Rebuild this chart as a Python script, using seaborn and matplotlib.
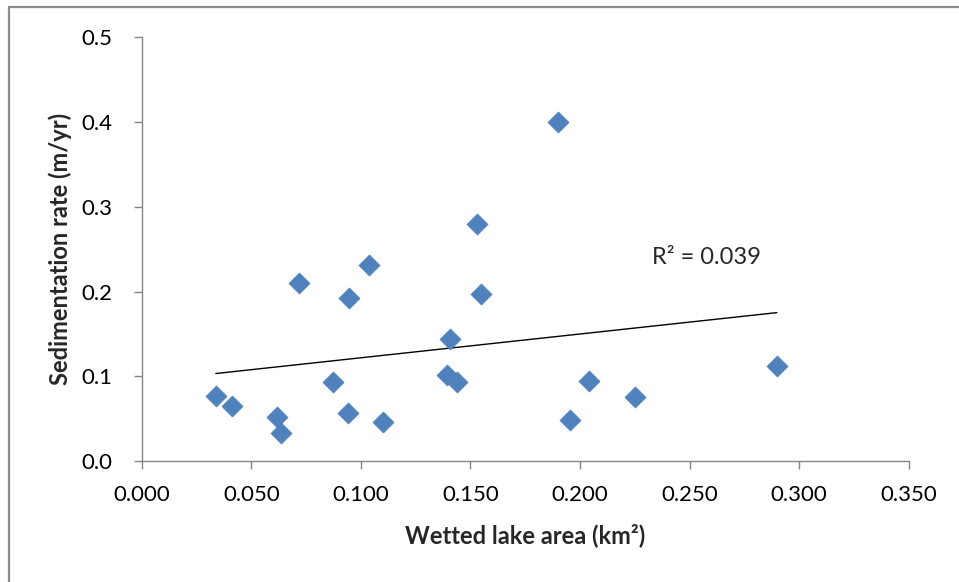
import numpy as np
import pandas as pd
import matplotlib
matplotlib.use('Agg')
import matplotlib.pyplot as plt
import seaborn as sns
from matplotlib.lines import Line2D

sns.set_style('white')
plt.rcParams['font.family'] = ['Lato', 'DejaVu Sans']

# values
lake_area = [0.0338, 0.0411, 0.0617, 0.0636, 0.0719, 0.0874, 0.0946, 0.0940,
             0.1038, 0.1099, 0.1406, 0.1391, 0.1440, 0.1531, 0.1548, 0.1898,
             0.1953, 0.2039, 0.2249, 0.2898]
sed_rate = [0.0771, 0.0653, 0.0516, 0.0334, 0.2105, 0.0936, 0.1921, 0.0563,
            0.2314, 0.0464, 0.1440, 0.1015, 0.0936, 0.2798, 0.1968, 0.4006,
            0.0484, 0.0945, 0.0759, 0.1122]
r2_text = 'R² = 0.039'
x_ticks = [0.0, 0.05, 0.10, 0.15, 0.20, 0.25, 0.30, 0.35]
y_ticks = [0.0, 0.1, 0.2, 0.3, 0.4, 0.5]

df = pd.DataFrame({'area': lake_area, 'rate': sed_rate})

fig = plt.figure(figsize=(9.59, 5.82), dpi=100)
ax = fig.add_axes([0.1478, 0.2079, 0.7998, 0.7277])

sns.regplot(data=df, x='area', y='rate', scatter=False, ci=None, ax=ax,
            line_kws={'color': 'black', 'lw': 1.0})
sns.scatterplot(data=df, x='area', y='rate', marker='D', s=115,
                color='#4F81BD', edgecolor='#4F81BD', linewidth=0.5, ax=ax, zorder=3)

ax.set_xlim(0, 0.35)
ax.set_ylim(0, 0.5)
ax.set_xticks(x_ticks)
ax.set_yticks(y_ticks)
ax.set_xticklabels(['%.3f' % t for t in x_ticks])
ax.set_yticklabels(['%.1f' % t for t in y_ticks])

gray = '#868686'
for side in ['top', 'right']:
    ax.spines[side].set_visible(False)
for side in ['left', 'bottom']:
    ax.spines[side].set_color(gray)
    ax.spines[side].set_linewidth(1.0)
ax.tick_params(axis='both', direction='out', length=6, width=1.0, color=gray,
               labelsize=16, labelcolor='black', left=True, bottom=True)
ax.tick_params(axis='y', pad=15)
ax.tick_params(axis='x', pad=11)

ax.set_xlabel('Wetted lake area (km²)', fontsize=17, fontweight='bold', labelpad=13)
ax.set_ylabel('Sedimentation rate (m/yr)', fontsize=17, fontweight='bold', labelpad=7)

ax.text(0.2328, 0.2406, r2_text, fontsize=17, ha='left', va='center')

# outer frame (right and bottom edges fall outside the picture)
fig.add_artist(Line2D([8.5 / 959, 8.5 / 959], [0, 1 - 7 / 582],
                      transform=fig.transFigure, color='#8c8c8c', lw=1.6))
fig.add_artist(Line2D([8.5 / 959, 1], [1 - 7 / 582, 1 - 7 / 582],
                      transform=fig.transFigure, color='#8c8c8c', lw=1.6))

fig.savefig('out.png', dpi=100)
